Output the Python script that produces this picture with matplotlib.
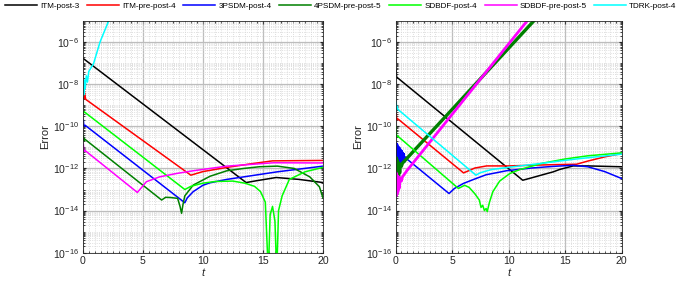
import numpy as np
import matplotlib
matplotlib.use("Agg")
import matplotlib.pyplot as plt
from matplotlib.ticker import FixedLocator, MultipleLocator, NullFormatter, FixedFormatter

plt.rcParams['font.family'] = ['Liberation Sans', 'DejaVu Sans']
plt.rcParams['mathtext.default'] = 'regular'

# ---------------- data (t, log10 of error) ----------------
labels = ["ITM-post-3", "ITM-pre-post-4", "3PSDM-post-4", "4PSDM-pre-post-5",
          "SDBDF-post-4", "SDBDF-pre-post-5", "TDRK-post-4"]
colors = ["#000000", "#FF0000", "#0000FF", "#008000", "#00FF00", "#FF00FF", "#00FFFF"]

# Left panel
L_itm3_t = [0, 13.6, 14.5, 16.1, 18, 20]
L_itm3_e = [-6.76, -12.67, -12.58, -12.43, -12.52, -12.67]

L_itm4_t = [0, 0.05, 0.1, 0.15, 0.25, 9.0, 10, 12, 14, 15.8, 20]
L_itm4_e = [-8.5, -8.25, -8.7, -8.4, -8.72, -12.32, -12.15, -11.95, -11.78, -11.64, -11.62]

L_3psdm_t = [0, 0.05, 0.1, 0.2, 8.5, 8.7, 9.2, 10, 10.6, 12, 13.4, 16.2, 20]
L_3psdm_e = [-9.85, -9.7, -10.0, -9.95, -13.63, -13.4, -13.1, -12.8, -12.68, -12.52, -12.4, -12.16, -11.89]

L_4psdm_t = [0, 0.05, 0.1, 0.15, 6.57, 6.9, 7.3, 7.9, 8.1, 8.23, 8.35, 8.5, 9.2, 10.6, 12, 13.4,
             14.7, 16.2, 17.6, 18.9, 19.7, 20]
L_4psdm_e = [-10.5, -10.45, -10.7, -10.6, -13.5, -13.37, -13.38, -13.42, -13.8, -14.13, -13.7, -13.3,
             -12.79, -12.37, -12.11, -12.0, -11.92, -11.89, -12.0, -12.4, -12.87, -13.4]

L_sdbdf4_t = [0, 0.05, 0.1, 8.5, 9, 10, 11, 12.5, 13.5, 14.3, 14.8, 15.2, 15.45, 15.6, 15.8, 16.0,
              16.15, 16.3, 16.6, 17.2, 18.5, 20]
L_sdbdf4_e = [-9.15, -9.4, -9.3, -13.0, -12.85, -12.7, -12.62, -12.6, -12.7, -12.85, -13.1, -13.6,
              -17.0, -14.2, -13.8, -14.5, -17.0, -14.0, -13.3, -12.52, -12.16, -11.95]

L_sdbdf5_t = [0, 0.05, 0.1, 0.2, 4.55, 5.3, 6.4, 7.8, 9.2, 12, 15.9, 20]
L_sdbdf5_e = [-11.0, -10.85, -11.2, -11.15, -13.14, -12.63, -12.4, -12.24, -12.11, -11.89, -11.73, -11.74]

L_tdrk_t = [0, 0.05, 0.1, 0.15, 0.2, 0.3, 0.4, 0.5, 0.9, 1.44, 2.3]
L_tdrk_e = [-8.6, -8.0, -8.5, -7.8, -8.2, -7.6, -7.9, -7.4, -7.03, -6.0, -4.8]

# Right panel
R_itm3_t = [0, 0.03, 0.08, 11.24, 12, 13, 13.95, 14.5, 15.7, 17, 20]
R_itm3_e = [-7.5, -7.3, -7.66, -12.56, -12.45, -12.3, -12.16, -12.05, -11.88, -11.88, -11.92]

R_itm4_t = [0, 0.05, 0.1, 0.2, 6.0, 6.5, 7, 8.05, 10, 12, 14, 16, 17, 18.5, 20]
R_itm4_e = [-9.6, -9.4, -9.7, -9.65, -12.21, -12.1, -11.98, -11.88, -11.88, -11.85, -11.82, -11.8,
            -11.65, -11.45, -11.29]

R_3psdm_t = [0, 0.04, 0.08, 0.12, 0.16, 0.2, 0.25, 0.3, 0.35, 0.4, 0.45, 0.5, 0.55, 0.6, 0.65, 0.7,
             0.75, 0.8, 0.9, 1.0, 1.1, 4.72, 5.2, 6, 7, 8, 9.8, 12, 14, 15.7, 17, 18.5, 20]
R_3psdm_e = [-10.75, -11.9, -10.8, -11.85, -10.85, -11.85, -10.95, -11.8, -11.0, -11.8, -11.1, -11.75,
             -11.15, -11.75, -11.25, -11.7, -11.3, -11.7, -11.45, -11.55, -11.6, -13.19, -12.95,
             -12.71, -12.5, -12.3, -12.11, -11.98, -11.9, -11.85, -11.92, -12.15, -12.48]

R_4psdm_t = [0, 0.03, 0.06, 0.09, 0.12, 0.15, 0.2, 0.25, 0.3, 0.35, 0.4, 0.5, 0.6, 12.3]
R_4psdm_e = [-11.6, -12.9, -11.5, -12.7, -11.6, -12.6, -11.7, -12.4, -11.8, -12.2, -11.8, -11.9,
             -11.75, -4.95]

R_sdbdf4_t = [0, 0.03, 0.08, 0.15, 5.55, 6.1, 6.5, 7.0, 7.4, 7.55, 7.7, 7.85, 8.0, 8.1, 8.3, 8.6,
              9.2, 10.1, 11, 13, 15, 17, 20]
R_sdbdf4_e = [-10.4, -10.0, -10.5, -10.45, -12.95, -12.8, -12.9, -13.2, -13.5, -13.85, -13.75, -14.0,
              -13.9, -14.05, -13.6, -13.1, -12.6, -12.24, -12.05, -11.75, -11.55, -11.4, -11.26]

R_sdbdf5_t = [0, 0.03, 0.06, 0.09, 0.12, 0.15, 0.2, 0.25, 0.3, 0.4, 0.5, 0.6, 0.8, 1.0, 11.7]
R_sdbdf5_e = [-12.9, -12.2, -13.3, -12.3, -13.2, -12.35, -13.1, -12.4, -12.95, -12.45, -12.6, -12.4,
              -12.25, -12.1, -4.95]

R_tdrk_t = [0, 0.04, 0.08, 0.12, 0.2, 7.1, 7.5, 8.5, 10.4, 13, 16, 20]
R_tdrk_e = [-9.0, -8.85, -9.15, -9.05, -9.2, -12.32, -12.2, -12.05, -11.92, -11.75, -11.55, -11.32]

left_series = [(L_itm3_t, L_itm3_e), (L_itm4_t, L_itm4_e), (L_3psdm_t, L_3psdm_e),
               (L_4psdm_t, L_4psdm_e), (L_sdbdf4_t, L_sdbdf4_e), (L_sdbdf5_t, L_sdbdf5_e),
               (L_tdrk_t, L_tdrk_e)]
right_series = [(R_itm3_t, R_itm3_e), (R_itm4_t, R_itm4_e), (R_3psdm_t, R_3psdm_e),
                (R_4psdm_t, R_4psdm_e), (R_sdbdf4_t, R_sdbdf4_e), (R_sdbdf5_t, R_sdbdf5_e),
                (R_tdrk_t, R_tdrk_e)]
right_widths = [1.1, 1.1, 1.1, 2.4, 1.1, 2.0, 1.1]

ytick_exps = [-16, -14, -12, -10, -8, -6]
xticks = [0, 5, 10, 15, 20]

# ---------------- figure ----------------
fig = plt.figure(figsize=(6.85, 2.85), dpi=100)
axL = fig.add_axes([82.7/685, 32.3/285, 240.3/685, 231.7/285])
axR = fig.add_axes([395.7/685, 32.3/285, 226.0/685, 231.7/285])

def style(ax):
    ax.set_yscale('log')
    ax.set_xlim(0, 20)
    ax.set_ylim(1e-16, 1e-5)
    ax.yaxis.set_major_locator(FixedLocator([10.0**e for e in ytick_exps]))
    ax.yaxis.set_major_formatter(FixedFormatter([r'$10^{%d}$' % e for e in ytick_exps]))
    minors = []
    for d in range(-16, -5):
        for m in range(1, 10):
            v = m * 10.0**d
            if m == 1 and d in ytick_exps:
                continue
            minors.append(v)
    ax.yaxis.set_minor_locator(FixedLocator(minors))
    ax.yaxis.set_minor_formatter(NullFormatter())
    ax.xaxis.set_major_locator(FixedLocator(xticks))
    ax.xaxis.set_minor_locator(MultipleLocator(0.5))
    ax.grid(True, which='major', color='#bdbdbd', linewidth=0.9, linestyle='-')
    ax.grid(True, which='minor', color='#d4d4d4', linewidth=0.6, linestyle=':')
    ax.set_axisbelow(True)
    ax.tick_params(which='both', direction='in', labelsize=7.6, colors='#262626',
                   top=True, right=True, length=2.5, pad=2.5)
    ax.tick_params(which='minor', length=1.3)
    for s in ax.spines.values():
        s.set_color('#262626')
        s.set_linewidth(0.6)
    ax.set_ylabel('Error', fontsize=8, color='#262626', labelpad=2)
    ax.set_xlabel('t', fontsize=8, style='italic', color='#262626', labelpad=1)

handles = []
for (t, e), c, lab in zip(left_series, colors, labels):
    h, = axL.plot(t, 10.0**np.array(e), color=c, linewidth=1.1, label=lab)
    handles.append(h)
for (t, e), c, w in zip(right_series, colors, right_widths):
    axR.plot(t, 10.0**np.array(e), color=c, linewidth=w)

style(axL)
style(axR)

fig.legend(handles, labels, loc='center', bbox_to_anchor=(341/685, 1 - 6/285), ncol=7,
           frameon=False, fontsize=5.9, handlelength=3.9, handletextpad=0.35,
           columnspacing=0.95, borderaxespad=0, borderpad=0)

fig.savefig('out.png', dpi=100)
